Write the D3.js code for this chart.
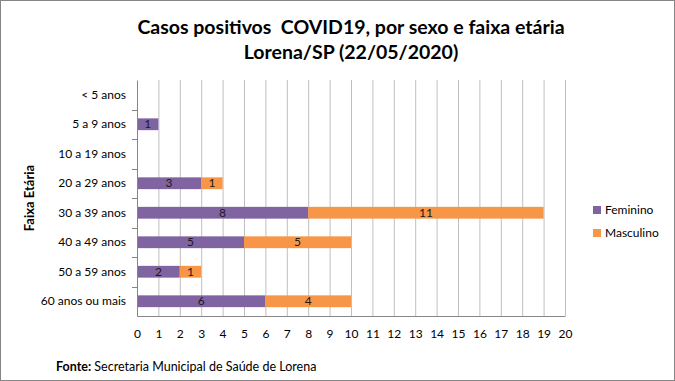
<!DOCTYPE html>
<html><head><meta charset="utf-8">
<script src="https://cdn.jsdelivr.net/npm/d3@7"></script>
<style>body{margin:0;background:#fff}svg{display:block;font-family:Lato,"Open Sans",sans-serif}</style>
</head><body><svg id="c" width="675" height="381"></svg>
<script>
const categories = ["< 5 anos","5 a 9 anos","10 a 19 anos","20 a 29 anos","30 a 39 anos","40 a 49 anos","50 a 59 anos","60 anos ou mais"];
const feminino = [0,1,0,3,8,5,2,6];
const masculino = [0,0,0,1,11,5,1,4];
const seriesNames = ["Feminino","Masculino"];
const colors = ["#8064A2","#F79646"];
const xTicks = d3.range(0,21);

const svg = d3.select("#c");
svg.append("rect").attr("x",0.5).attr("y",0.5).attr("width",674).attr("height",380).attr("fill","#fff").attr("stroke","#868686");

const m = {l:137,r:565,t:80,b:316};
const x = d3.scaleLinear().domain([0,20]).range([m.l,m.r]);
const y = d3.scaleBand().domain(categories).range([m.t,m.b]).paddingInner(0.6).paddingOuter(0.3);
const yb = d3.scaleBand().domain(categories).range([m.t,m.b]);

// grid
svg.append("g").selectAll("line").data(xTicks.slice(1)).join("line")
  .attr("x1",d=>x(d)+0.5).attr("x2",d=>x(d)+0.5).attr("y1",m.t).attr("y2",m.b)
  .attr("stroke","#BFBFBF").attr("stroke-width",1);

// bars
const data = categories.map((c,i)=>({cat:c,Feminino:feminino[i],Masculino:masculino[i]}));
const stack = d3.stack().keys(seriesNames)(data);
const g = svg.append("g");
stack.forEach((s,si)=>{
  g.append("g").selectAll("rect").data(s).join("rect")
   .attr("x",d=>x(d[0])).attr("width",d=>x(d[1])-x(d[0]))
   .attr("y",d=>y(d.data.cat)).attr("height",y.bandwidth())
   .attr("fill",colors[si]);
  g.append("g").selectAll("text").data(s.filter(d=>d[1]-d[0]>0)).join("text")
   .attr("x",d=>(x(d[0])+x(d[1]))/2).attr("y",d=>y(d.data.cat)+y.bandwidth()/2+4)
   .attr("text-anchor","middle").attr("font-size",12).attr("fill","#1a1a1a")
   .text(d=>d[1]-d[0]);
});

// axes
const ax = svg.append("g").attr("transform",`translate(0,${m.b})`)
  .call(d3.axisBottom(x).tickValues(xTicks).tickSize(0).tickPadding(13).tickFormat(d3.format("d")));
ax.select(".domain").attr("stroke","#868686");
ax.selectAll("text").attr("font-size",12).attr("fill","#000").attr("font-family","Lato,sans-serif");

const ay = svg.append("g").attr("transform",`translate(${m.l},0)`)
  .call(d3.axisLeft(yb).tickSize(0).tickPadding(11));
ay.select(".domain").attr("stroke","#868686");
ay.selectAll("text").attr("font-size",12).attr("fill","#000").attr("font-family","Lato,sans-serif");
ay.selectAll("line.sep").data(categories.slice(1)).join("line").attr("class","sep")
  .attr("x1",-5).attr("x2",0).attr("y1",d=>Math.round(yb(d))+0.5).attr("y2",d=>Math.round(yb(d))+0.5).attr("stroke","#868686");

// titles
svg.append("text").attr("x",351).attr("y",34).attr("text-anchor","middle").attr("font-size",19.5).attr("font-weight","bold").style("white-space","pre").text("Casos positivos  COVID19, por sexo e faixa etária");
svg.append("text").attr("x",351).attr("y",59).attr("text-anchor","middle").attr("font-size",19.5).attr("font-weight","bold").text("Lorena/SP (22/05/2020)");
svg.append("text").attr("transform",`translate(34,${(m.t+m.b)/2}) rotate(-90)`).attr("text-anchor","middle").attr("font-size",13).attr("font-weight","bold").text("Faixa Etária");

// legend
const lg = svg.append("g");
seriesNames.forEach((n,i)=>{
  lg.append("rect").attr("x",593).attr("y",206+i*23).attr("width",8).attr("height",8).attr("fill",colors[i]);
  lg.append("text").attr("x",605).attr("y",214+i*23).attr("font-size",12).text(n);
});

// footer
const ft = svg.append("text").attr("x",56).attr("y",371).attr("font-size",12.5);
ft.append("tspan").attr("font-weight","bold").text("Fonte:");
ft.append("tspan").text(" Secretaria Municipal de Saúde de Lorena");
</script></body></html>
